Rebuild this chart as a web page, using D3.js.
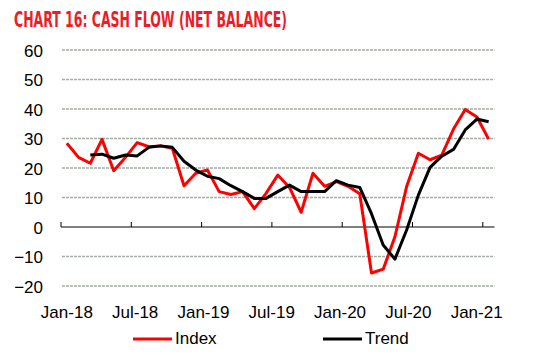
<!DOCTYPE html>
<html>
<head>
<meta charset="utf-8">
<script src="https://cdn.jsdelivr.net/npm/d3@7"></script>
<style>
  html, body { margin: 0; padding: 0; background: #fff; }
  svg { display: block; }
</style>
</head>
<body>
<svg id="chart" width="535" height="355"></svg>
<script>
// ---- data ----
const months = ["Jan-18","Feb-18","Mar-18","Apr-18","May-18","Jun-18","Jul-18","Aug-18","Sep-18","Oct-18","Nov-18","Dec-18",
                "Jan-19","Feb-19","Mar-19","Apr-19","May-19","Jun-19","Jul-19","Aug-19","Sep-19","Oct-19","Nov-19","Dec-19",
                "Jan-20","Feb-20","Mar-20","Apr-20","May-20","Jun-20","Jul-20","Aug-20","Sep-20","Oct-20","Nov-20","Dec-20",
                "Jan-21"];
const indexValues = [28.4, 23.6, 21.6, 29.7, 19.1, 23.6, 28.6, 27.2, 27.5, 26.7, 14, 18.2,
                     19.3, 12, 11, 12, 6.2, 11.4, 17.6, 13.4, 5, 18.2, 13.8, 15.4,
                     13.8, 11.3, -15.6, -14.3, -3.3, 13.7, 25, 22.8, 24.4, 33.2, 39.8, 37.3,
                     29.8];
const trendValues = [null, null, 24.4, 24.7, 23.3, 24.4, 24.1, 27, 27.5, 27, 22.3, 19.3,
                     17.2, 16.4, 14, 12, 9.7, 9.7, 12, 14.2, 12, 12, 12, 15.7,
                     14.2, 13.4, 4.5, -6.1, -10.9, -1, 10.8, 20.2, 24, 26.3, 32.9, 36.6,
                     35.7];
const yTicks = [-20, -10, 0, 10, 20, 30, 40, 50, 60];
const xTickLabels = ["Jan-18","Jul-18","Jan-19","Jul-19","Jan-20","Jul-20","Jan-21"];
const seriesNames = ["Index", "Trend"];
const seriesColors = ["#ff0000", "#000000"];
const titleText = "CHART 16: CASH FLOW (NET BALANCE)";

// ---- layout ----
const svg = d3.select("#chart");
const plotLeft = 61, plotRight = 494.5, plotTop = 50, plotBottom = 286;
const font = "'Liberation Sans', Arial, sans-serif";

const x = d3.scaleBand().domain(months).range([plotLeft, plotRight]).padding(0);
const cx = d => x(d) + x.bandwidth() / 2;
const y = d3.scaleLinear().domain([-20, 60]).range([plotBottom, plotTop]);

// title
svg.append("text")
  .attr("x", 14).attr("y", 27)
  .attr("font-family", "'Liberation Sans Narrow', 'DejaVu Sans Condensed', 'Liberation Sans', sans-serif")
  .attr("font-weight", "bold")
  .attr("font-size", 22)
  .attr("fill", "#ee1c25")
  .attr("textLength", 273)
  .attr("lengthAdjust", "spacingAndGlyphs")
  .text(titleText);

// gridlines
svg.append("g").selectAll("line")
  .data(yTicks.filter(t => t !== 0))
  .join("line")
  .attr("x1", plotLeft + 1).attr("x2", plotRight)
  .attr("y1", d => y(d)).attr("y2", d => y(d))
  .attr("stroke", "#a3ada3")
  .attr("stroke-width", 1.3)
  .attr("stroke-dasharray", "3,1");

// y axis labels
const yAxis = d3.axisLeft(y).tickValues(yTicks).tickSize(0).tickPadding(0).tickFormat(d3.format("d"));
const gy = svg.append("g").attr("transform", `translate(43,0)`).call(yAxis);
gy.select(".domain").remove();
gy.selectAll("text")
  .attr("font-family", font).attr("font-size", 17).attr("fill", "#000")
  .attr("dy", "0.36em");

// zero axis line with ticks
const tickMonths = months.filter((m, i) => i % 6 === 0);
svg.append("line")
  .attr("x1", plotLeft).attr("x2", plotRight)
  .attr("y1", y(0)).attr("y2", y(0))
  .attr("stroke", "#000").attr("stroke-width", 1);
svg.append("g").selectAll("line")
  .data(tickMonths)
  .join("line")
  .attr("x1", d => x(d)).attr("x2", d => x(d))
  .attr("y1", y(0)).attr("y2", y(0) - 5)
  .attr("stroke", "#000").attr("stroke-width", 1);

// x labels (Excel-like label spacing, slightly compressed)
const labelScale = d3.scaleLinear().domain([0, months.length - 1])
  .range([cx(months[0]), cx(months[0]) + (cx(months[months.length - 1]) - cx(months[0])) * 0.9716]);
svg.append("g").selectAll("text")
  .data(xTickLabels)
  .join("text")
  .attr("x", d => labelScale(months.indexOf(d)))
  .attr("y", 318)
  .attr("text-anchor", "middle")
  .attr("font-family", font).attr("font-size", 17).attr("fill", "#000")
  .text(d => d);

// lines
const lineGen = d3.line()
  .defined(d => d.v !== null)
  .x(d => cx(d.m))
  .y(d => y(d.v));

[indexValues, trendValues].forEach((vals, k) => {
  const data = months.map((m, i) => ({ m, v: vals[i] }));
  svg.append("path")
    .datum(data)
    .attr("d", lineGen)
    .attr("fill", "none")
    .attr("stroke", seriesColors[k])
    .attr("stroke-width", 3)
    .attr("stroke-linejoin", "round");
});

// legend
const legendX = [133, 323];
seriesNames.forEach((name, k) => {
  svg.append("line")
    .attr("x1", legendX[k]).attr("x2", legendX[k] + 39)
    .attr("y1", 339).attr("y2", 339)
    .attr("stroke", seriesColors[k]).attr("stroke-width", 3);
  svg.append("text")
    .attr("x", legendX[k] + 42).attr("y", 344)
    .attr("font-family", font).attr("font-size", 17).attr("fill", "#000")
    .text(name);
});
</script>
</body>
</html>
